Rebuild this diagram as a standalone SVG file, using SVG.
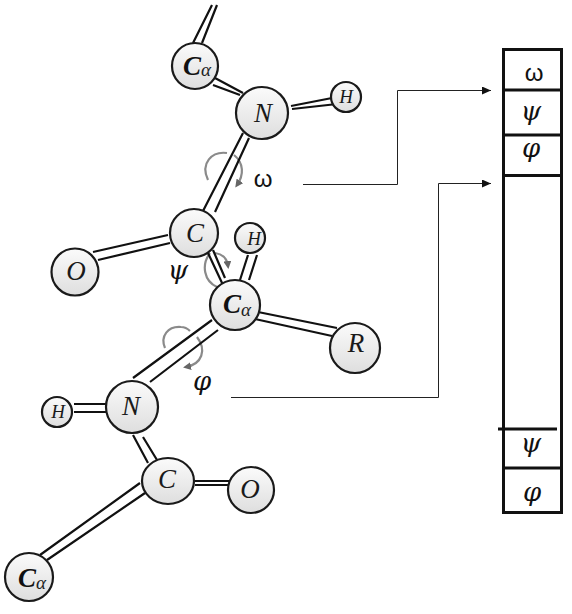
<svg xmlns="http://www.w3.org/2000/svg" width="572" height="614" viewBox="0 0 572 614">
<style>
.a{fill:url(#g);stroke:#1a1a1a;stroke-width:2.2}
.b{stroke:#111;stroke-width:2.2;fill:none;stroke-linecap:butt}
.r{stroke:#8a8a8a;stroke-width:2.2;fill:none}
.c{stroke:#222;stroke-width:1;fill:none}
.t{stroke:#111;stroke-width:3;fill:none}
.m{font-family:"Liberation Serif",serif;font-style:italic;fill:#1a1a1a;text-anchor:middle}
.s{font-family:"DejaVu Serif","Liberation Serif",serif;font-style:italic;fill:#111;text-anchor:middle;font-size:26px}
.o{font-family:"Liberation Sans",sans-serif;fill:#111;text-anchor:middle;font-size:24px}
.ca{font-family:"Liberation Serif",serif;font-style:italic;font-weight:bold;font-size:27px;fill:#111}
.al{font-family:"Liberation Serif",serif;font-style:italic;font-size:19px;fill:#222}
</style>
<defs>
<linearGradient id="g" x1="0" y1="0" x2="0" y2="1"><stop offset="0" stop-color="#fbfbfb"/><stop offset="1" stop-color="#dedede"/></linearGradient>
<marker id="ar" markerWidth="9" markerHeight="8" refX="9" refY="4" orient="auto" markerUnits="userSpaceOnUse"><path d="M0,0L9,4L0,8z" fill="#111"/></marker>
<marker id="gr" markerWidth="8" markerHeight="8" refX="5" refY="4" orient="auto" markerUnits="userSpaceOnUse"><path d="M0,0L8,4L0,8z" fill="#666"/></marker>
</defs>
<g id="rotations">
<path class="r" d="M208,180C200,163 212,151 227,153"/>
<path class="r" d="M234,155C244,163 244,175 237,185" marker-end="url(#gr)"/>
<path class="r" d="M217,287C204,281 201,265 210,253"/>
<path class="r" d="M215,253C222,254 227,258 228,266" marker-end="url(#gr)"/>
<path class="r" d="M165,348C160,336 168,326 181,327C185,327 188,329 190,331"/>
<path class="r" d="M197,337C207,350 202,364 186,367" marker-end="url(#gr)"/>
</g>
<g id="bonds">
<path class="b" d="M193,43L212,5M202,43L217,5M215,78L243,93M213,85L240,95M291,106L332,98M292,109L337,104M243,133L203,211M249,138L215,212M168,235L93,252M170,243L98,260M208,253L223,285M213,250L225,278M240,280L248,255M249,280L257,255M258,312L337,328M255,319L332,336M212,320L133,378M218,330L150,382M74,404L107,404M74,412L108,412M133,435L148,463M143,437L157,460M195,481L229,481M195,485L229,485M140,483L40,555M145,493L47,560"/>
</g>
<g id="connectors">
<path class="c" d="M303,184.500H397.500V90.500H491" marker-end="url(#ar)"/>
<path class="c" d="M231,397.500H438.500V183.500H491" marker-end="url(#ar)"/>
</g>
<g id="node-ca1"><circle class="a" cx="195" cy="66" r="23"/><text class="ca" x="183" y="75">C</text><text class="al" x="201" y="76">α</text></g>
<g id="node-n1"><circle class="a" cx="262" cy="113" r="26"/><text class="m" x="263" y="122" font-size="27">N</text></g>
<g id="node-h1"><circle class="a" cx="346" cy="97" r="15"/><text class="m" x="346" y="103" font-size="19">H</text></g>
<g id="node-c1"><circle class="a" cx="194" cy="233" r="24"/><text class="m" x="195" y="242" font-size="27">C</text></g>
<g id="node-o1"><circle class="a" cx="75" cy="272" r="23.500"/><text class="m" x="76" y="280" font-size="27">O</text></g>
<g id="node-h2"><circle class="a" cx="250" cy="238" r="15"/><text class="m" x="254" y="245" font-size="19">H</text></g>
<g id="node-ca2"><circle class="a" cx="235" cy="305" r="25"/><text class="ca" x="223" y="313">C</text><text class="al" x="241" y="316">α</text></g>
<g id="node-r"><circle class="a" cx="355" cy="348" r="25"/><text class="m" x="356" y="352" font-size="27">R</text></g>
<g id="node-n2"><circle class="a" cx="132" cy="407" r="26"/><text class="m" x="131" y="415" font-size="27">N</text></g>
<g id="node-h3"><circle class="a" cx="57" cy="412" r="15"/><text class="m" x="58" y="418" font-size="19">H</text></g>
<g id="node-c2"><ellipse class="a" cx="168" cy="481" rx="26" ry="23"/><text class="m" x="167" y="488" font-size="27">C</text></g>
<g id="node-o2"><circle class="a" cx="251" cy="490" r="23"/><text class="m" x="250" y="498" font-size="27">O</text></g>
<g id="node-ca3"><circle class="a" cx="29" cy="577" r="24"/><text class="ca" x="18" y="587">C</text><text class="al" x="36" y="589">α</text></g>
<g id="labels">
<text class="o" x="263" y="187">ω</text>
<text class="s" x="178" y="279">ψ</text>
<text class="s" x="202" y="390">φ</text>
</g>
<g id="table">
<rect class="t" x="503.500" y="49.500" width="58" height="463"/>
<path class="t" d="M503,90H561M503,135H561M503,175.500H561M498,429H557M503,468H561"/>
<text class="o" x="534" y="81">ω</text>
<text class="s" x="531" y="120">ψ</text>
<text class="s" x="531" y="157">φ</text>
<text class="s" x="531" y="452">ψ</text>
<text class="s" x="532" y="501">φ</text>
</g>
</svg>
